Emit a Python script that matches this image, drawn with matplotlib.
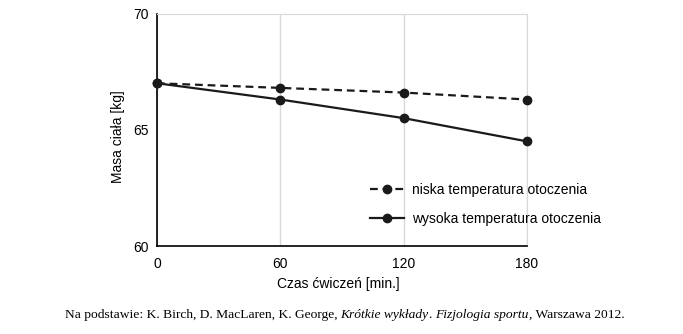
import matplotlib.pyplot as plt

czas = [0, 60, 120, 180]
niska = [67.0, 66.8, 66.6, 66.3]
wysoka = [67.0, 66.3, 65.5, 64.5]

plt.rcParams['font.family'] = ['Liberation Sans', 'DejaVu Sans']

fig = plt.figure(figsize=(6.83, 3.34), dpi=100)
ax = fig.add_axes([157 / 683, 1 - 246 / 334, 370 / 683, 232.5 / 334])

ax.plot(czas, niska, color='#1a1a1a', lw=1.6, ls=(0, (3.5, 2.2)), marker='o', ms=6,
        label='niska temperatura otoczenia', clip_on=False, zorder=3)
ax.plot(czas, wysoka, color='#1a1a1a', lw=1.6, marker='o', ms=6,
        label='wysoka temperatura otoczenia', clip_on=False, zorder=3)

ax.set_xlim(0, 180)
ax.set_ylim(60, 70)
ax.set_xticks(czas)
ax.set_yticks([60, 65, 70])
ax.grid(axis='x', color='#d9d9d9', lw=1)
ax.set_axisbelow(True)
for s in ['top', 'right']:
    ax.spines[s].set_color('#d9d9d9')
for s in ['left', 'bottom']:
    ax.spines[s].set_color('black')
    ax.spines[s].set_linewidth(1.2)
ax.tick_params(length=0, labelsize=10)
ax.tick_params(axis='x', pad=8)
ax.tick_params(axis='y', pad=6)
ax.set_xlabel('Czas ćwiczeń [min.]', fontsize=10)
ax.set_ylabel('Masa ciała [kg]', fontsize=10)
ax.xaxis.set_label_coords(0.49, -0.135)
ax.yaxis.set_label_coords(-0.086, 0.47)

ax.legend(loc='upper left', bbox_to_anchor=(0.577, 0.27), frameon=False, fontsize=10,
          handlelength=2.4, labelspacing=1.05, handletextpad=0.6, borderpad=0,
          borderaxespad=0)

# stopka z fragmentem kursywą
parts = [('Na podstawie: K. Birch, D. MacLaren, K. George, ', 'normal'),
         ('Krótkie wykłady', 'italic'), ('. ', 'normal'),
         ('Fizjologia sportu', 'italic'), (', Warszawa 2012.', 'normal')]
fig.canvas.draw()
r = fig.canvas.get_renderer()
texts = []
for s, st in parts:
    t = fig.text(0, 1 - 315 / 334, s, family='Liberation Serif', style=st, fontsize=9.7, va='center')
    texts.append(t)
widths = [t.get_window_extent(r).width for t in texts]
x = 344.5 - sum(widths) / 2
for t, w in zip(texts, widths):
    t.set_x(x / 683)
    x += w

fig.savefig('out.png', dpi=100)
